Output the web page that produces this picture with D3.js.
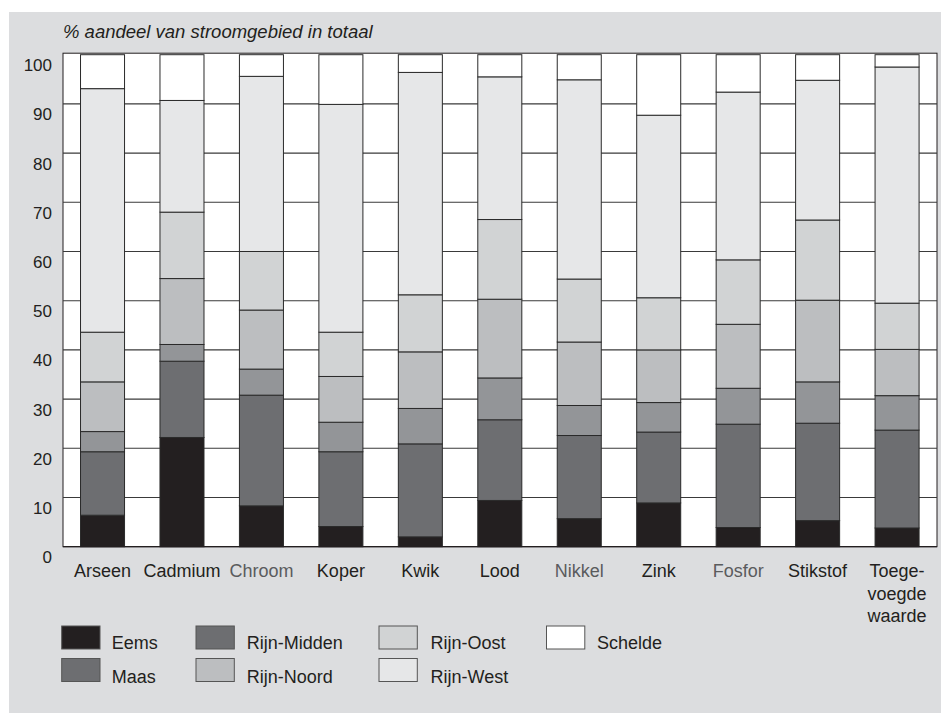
<!DOCTYPE html>
<html><head><meta charset="utf-8">
<script src="https://cdn.jsdelivr.net/npm/d3@7"></script>
<style>html,body{margin:0;padding:0;background:#fff;}svg{display:block;font-family:"Liberation Sans",Arial,sans-serif;}</style>
</head><body>
<svg id="c" width="941" height="713"></svg>
<script>
const categories = ["Arseen","Cadmium","Chroom","Koper","Kwik","Lood","Nikkel","Zink","Fosfor","Stikstof","Toegevoegde waarde"];
const categoryLines = [["Arseen"],["Cadmium"],["Chroom"],["Koper"],["Kwik"],["Lood"],["Nikkel"],["Zink"],["Fosfor"],["Stikstof"],["Toege-","voegde","waarde"]];
const seriesNames = ["Eems","Maas","Rijn-Midden","Rijn-Noord","Rijn-Oost","Rijn-West","Schelde"];
const eems       = [6.4, 22.2, 8.3, 4.1, 2.0, 9.4, 5.7, 8.9, 3.9, 5.3, 3.8];
const maas       = [12.9, 15.5, 22.5, 15.2, 18.9, 16.4, 16.9, 14.4, 21.0, 19.8, 19.9];
const rijnMidden = [4.1, 3.4, 5.3, 6.0, 7.2, 8.5, 6.1, 6.0, 7.3, 8.4, 7.0];
const rijnNoord  = [10.1, 13.4, 12.0, 9.3, 11.5, 16.0, 12.9, 10.7, 13.0, 16.6, 9.4];
const rijnOost   = [10.1, 13.5, 11.9, 9.0, 11.6, 16.2, 12.8, 10.6, 13.1, 16.3, 9.4];
const rijnWest   = [49.5, 22.7, 35.6, 46.3, 45.2, 29.0, 40.5, 37.1, 34.1, 28.4, 48.0];
const schelde    = [6.9, 9.3, 4.4, 10.1, 3.6, 4.5, 5.1, 12.3, 7.6, 5.2, 2.5];
const yTicks = [0,10,20,30,40,50,60,70,80,90,100];
const barColors = ["#231f20","#6d6e71","#939598","#bcbec0","#d1d3d4","#e6e7e8","#ffffff"];
const legendColors = ["#231f20","#6d6e71","#6d6e71","#bcbec0","#d1d3d4","#e6e7e8","#ffffff"];
const grayLabels = ["Chroom","Nikkel","Fosfor"];
const yLabel = "% aandeel van stroomgebied in totaal";

const seriesValues = [eems, maas, rijnMidden, rijnNoord, rijnOost, rijnWest, schelde];
const rows = categories.map((c,i)=>{const r={cat:c}; seriesNames.forEach((s,j)=>r[s]=seriesValues[j][i]); return r;});
const stacked = d3.stack().keys(seriesNames)(rows);

const svg = d3.select("#c");
svg.append("rect").attr("x",9).attr("y",12).attr("width",932).attr("height",701).attr("fill","#dcdddf");

const x = d3.scaleBand().domain(categories).range([62.8,936.8]).paddingInner(0.446).paddingOuter(0.223);
const y = d3.scaleLinear().domain([0,100]).range([546.7,54.7]);

svg.append("rect").attr("x",63).attr("y",53.2).attr("width",874).attr("height",546.7-53.2)
  .attr("fill","#fff").attr("stroke","#231f20").attr("stroke-width",1);

svg.append("g").selectAll("line").data(yTicks.filter(v=>v>0&&v<100)).join("line")
  .attr("x1",63).attr("x2",937).attr("y1",d=>y(d)).attr("y2",d=>y(d))
  .attr("stroke","#3a3a3a").attr("stroke-width",1.1);

svg.append("g").selectAll("g").data(stacked).join("g")
  .attr("fill",(d,i)=>barColors[i])
  .selectAll("rect").data(d=>d).join("rect")
  .attr("x",d=>x(d.data.cat)).attr("width",x.bandwidth())
  .attr("y",d=>y(d[1])).attr("height",d=>y(d[0])-y(d[1]))
  .attr("stroke","#2a2a2a").attr("stroke-width",1);

svg.append("line").attr("x1",63).attr("x2",937).attr("y1",546.7).attr("y2",546.7).attr("stroke","#231f20").attr("stroke-width",1.2);

svg.append("g").selectAll("text").data(yTicks).join("text")
  .attr("x",52).attr("y",d=>y(d)+16.5).attr("text-anchor","end")
  .attr("font-size",17).attr("fill","#231f20").text(d=>d);

svg.append("text").attr("x",63).attr("y",38).attr("font-size",18.5).attr("font-style","italic")
  .attr("fill","#231f20").text(yLabel);

const cl = svg.append("g").selectAll("text").data(categories).join("text")
  .attr("text-anchor","middle").attr("font-size",18)
  .attr("fill",d=>grayLabels.includes(d)?"#5a5b5d":"#231f20");
cl.each(function(d,i){
  const t=d3.select(this);
  categoryLines[i].forEach((ln,k)=>{
    t.append("tspan").attr("x",x(d)+x.bandwidth()/2).attr("y",577+k*22.5).text(ln);
  });
});

const legendPos = [[61.7,626],[61.7,658.5],[196,626],[196,658.5],[379,626],[379,658.5],[546.5,626]];
const textX = [111.7,111.7,246.7,246.7,430.5,430.5,597];
const lg = svg.append("g").selectAll("g").data(seriesNames).join("g");
lg.append("rect").attr("x",(d,i)=>legendPos[i][0]).attr("y",(d,i)=>legendPos[i][1])
  .attr("width",38.3).attr("height",23).attr("fill",(d,i)=>legendColors[i])
  .attr("stroke","#555").attr("stroke-width",1);
lg.append("text").attr("x",(d,i)=>textX[i]).attr("y",(d,i)=>legendPos[i][1]+23+(i%2))
  .attr("font-size",18).attr("fill","#231f20").text(d=>d);
</script>
</body></html>
